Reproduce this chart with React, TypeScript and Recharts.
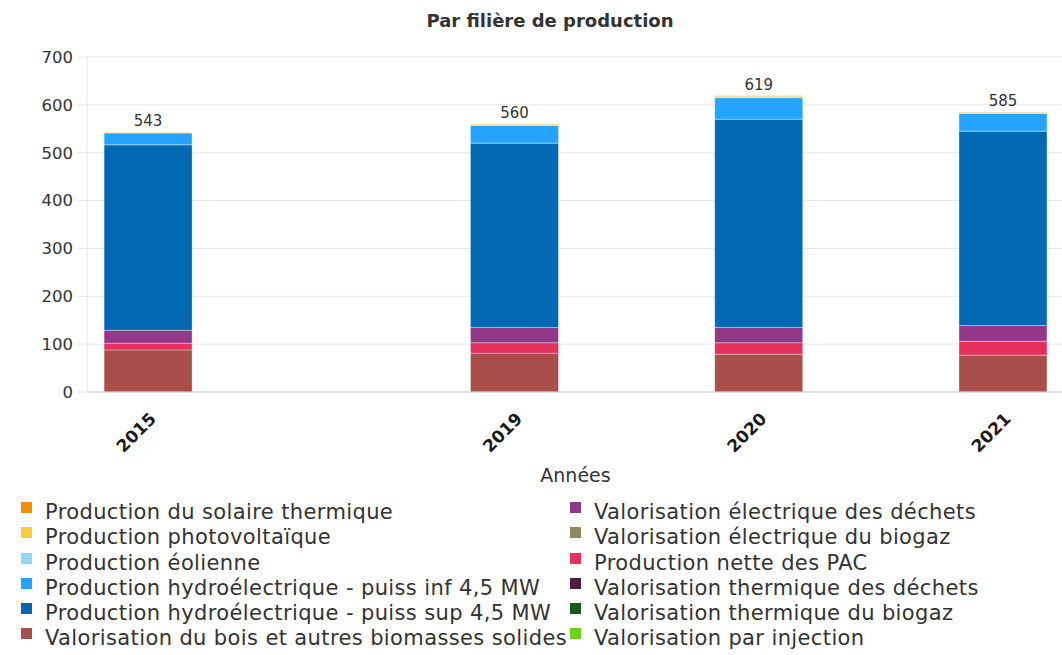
import { BarChart, Bar, XAxis, YAxis, CartesianGrid, LabelList } from 'recharts';

// slots of the category axis (empty ones are gaps between the years)
const slots = ['2015', '', '', '2019', '', '2020', '', '2021'];
const yTicks = [0, 100, 200, 300, 400, 500, 600, 700];

const solaireThermique = [0.5, null, null, 0.5, null, 1, null, 0.5];
const photovoltaique = [1.5, null, null, 2.5, null, 3, null, 2.5];
const eolienne = [0, null, null, 0, null, 0, null, 0];
const hydroInf = [24.5, null, null, 37, null, 45, null, 37];
const hydroSup = [387.5, null, null, 385, null, 435, null, 406];
const bois = [88, null, null, 81, null, 79, null, 77];
const elecDechets = [27, null, null, 32, null, 32, null, 33];
const elecBiogaz = [0, null, null, 0, null, 0, null, 0];
const pac = [14, null, null, 22, null, 24, null, 29];
const thermDechets = [0, null, null, 0, null, 0, null, 0];
const thermBiogaz = [0, null, null, 0, null, 0, null, 0];
const injection = [0, null, null, 0, null, 0, null, 0];

// legend order
const series = [
  { key: 'solaireThermique', name: 'Production du solaire thermique', color: '#f29100', values: solaireThermique },
  { key: 'photovoltaique', name: 'Production photovoltaïque', color: '#fdcb3a', values: photovoltaique },
  { key: 'eolienne', name: 'Production éolienne', color: '#90d5f2', values: eolienne },
  { key: 'hydroInf', name: 'Production hydroélectrique - puiss inf 4,5 MW', color: '#25a4ff', values: hydroInf },
  { key: 'hydroSup', name: 'Production hydroélectrique - puiss sup 4,5 MW', color: '#0069b2', values: hydroSup },
  { key: 'bois', name: 'Valorisation du bois et autres biomasses solides', color: '#a74f48', values: bois },
  { key: 'elecDechets', name: 'Valorisation électrique des déchets', color: '#933788', values: elecDechets },
  { key: 'elecBiogaz', name: 'Valorisation électrique du biogaz', color: '#8f8a5b', values: elecBiogaz },
  { key: 'pac', name: 'Production nette des PAC', color: '#e3305f', values: pac },
  { key: 'thermDechets', name: 'Valorisation thermique des déchets', color: '#4b1c45', values: thermDechets },
  { key: 'thermBiogaz', name: 'Valorisation thermique du biogaz', color: '#145a1e', values: thermBiogaz },
  { key: 'injection', name: 'Valorisation par injection', color: '#6cd11a', values: injection },
];

// order in the stack, bottom to top
const stackOrder = [
  'injection', 'thermBiogaz', 'thermDechets', 'elecBiogaz',
  'bois', 'pac', 'elecDechets', 'hydroSup', 'hydroInf', 'eolienne', 'photovoltaique', 'solaireThermique',
];

const data = slots.map((slot, i) => {
  const row: Record<string, any> = { slot };
  let sum = 0;
  let any = false;
  series.forEach((s) => {
    row[s.key] = s.values[i];
    if (s.values[i] != null) {
      sum += s.values[i] as number;
      any = true;
    }
  });
  row.total = any ? sum : null;
  return row;
});

const FONT = '"DejaVu Sans", sans-serif';

const YearTick = (props: any) => {
  const { x, y, payload } = props;
  if (!payload.value) return null;
  return (
    <g transform={`translate(${x + 9},${y + 20})`}>
      <text textAnchor="end" transform="rotate(-45)" fontSize={17} fontWeight="bold" fill="#1a1a1a" fontFamily={FONT}>
        {payload.value}
      </text>
    </g>
  );
};

export default function App() {
  const byKey: Record<string, (typeof series)[number]> = {};
  series.forEach((s) => (byKey[s.key] = s));
  const top = stackOrder[stackOrder.length - 1];

  return (
    <div style={{ position: 'fixed', left: 0, top: 0, width: 1062, height: 655, overflow: 'hidden', background: '#fff', fontFamily: FONT }}>
      <div style={{ position: 'absolute', top: 10, left: 0, width: 1100, textAlign: 'center', fontSize: 18, lineHeight: '22px', fontWeight: 'bold', color: '#333' }}>
        Par filière de production
      </div>
      <BarChart width={1064} height={655} data={data} margin={{ top: 57, right: 0, bottom: 163, left: 0 }} barCategoryGap="14%">
        <CartesianGrid xAxisId="grid" stroke="#e6e6e6" />
        <XAxis
          xAxisId="grid"
          type="number"
          domain={[0, slots.length]}
          allowDataOverflow
          ticks={slots.map((_, i) => i).concat(slots.length)}
          tick={false}
          axisLine={false}
          tickLine={{ stroke: '#e6e6e6' }}
          tickSize={10}
          height={0}
        />
        <XAxis
          xAxisId="cat"
          dataKey="slot"
          height={100}
          tickLine={false}
          axisLine={{ stroke: '#cccccc' }}
          tick={<YearTick />}
          interval={0}
          label={{ value: 'Années', position: 'insideBottom', offset: 10, fill: '#333', fontSize: 19, fontFamily: FONT }}
        />
        <YAxis
          width={87}
          domain={[0, 700]}
          ticks={yTicks}
          axisLine={false}
          tickLine={{ stroke: '#e6e6e6' }}
          tickSize={10}
          tickMargin={4}
          tick={{ fill: '#333', fontSize: 16.5, fontFamily: FONT }}
        />
        {stackOrder.map((k) => (
          <Bar
            key={k}
            xAxisId="cat"
            dataKey={k}
            name={byKey[k].name}
            stackId="a"
            fill={byKey[k].color}
            stroke="rgba(255,255,255,0.35)"
            isAnimationActive={false}
          >
            {k === top && (
              <LabelList
                dataKey="total"
                position="top"
                offset={6}
                formatter={(v: any) => (v == null ? '' : Math.round(v))}
                fill="#333"
                fontSize={15}
                fontFamily={FONT}
              />
            )}
          </Bar>
        ))}
      </BarChart>
      <div
        style={{
          position: 'absolute',
          left: 21,
          top: 500,
          display: 'grid',
          gridTemplateRows: 'repeat(6, 25.3px)',
          gridAutoFlow: 'column',
          gridTemplateColumns: '549px auto',
          fontSize: 21,
          letterSpacing: 0.38,
          color: '#333',
          lineHeight: '25.3px',
          whiteSpace: 'nowrap',
        }}
      >
        {series.map((s) => (
          <div key={s.key} style={{ display: 'flex', alignItems: 'flex-start' }}>
            <span style={{ width: 11, height: 11, background: s.color, marginTop: 2, marginRight: 13, flex: 'none' }} />
            <span>{s.name}</span>
          </div>
        ))}
      </div>
    </div>
  );
}
